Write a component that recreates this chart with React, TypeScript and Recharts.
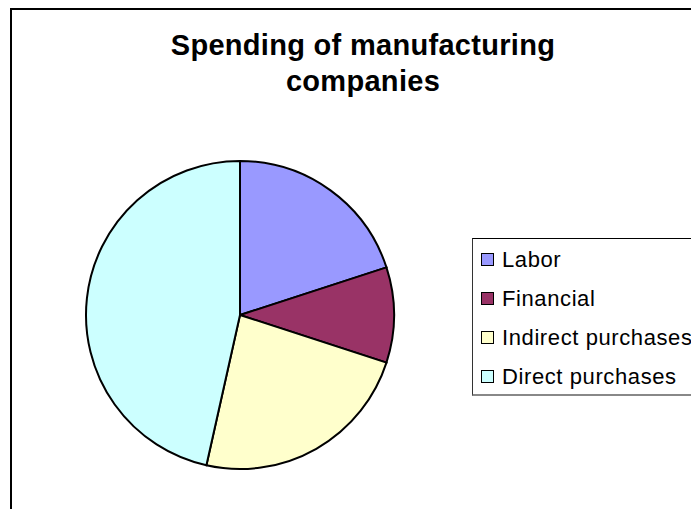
import { PieChart, Pie, Cell, Legend } from "recharts";

const categories = ["Labor", "Financial", "Indirect purchases", "Direct purchases"];
const spending = [20, 10, 23.5, 46.5];
const colors = ["#9999FF", "#993366", "#FFFFCC", "#CCFFFF"];

const data = categories.map((name, i) => ({ name, value: spending[i] }));

const LegendBox = () => (
    <div
        style={{
            width: 240,
            height: 158,
            boxSizing: "border-box",
            borderTop: "1px solid #000",
            borderLeft: "1px solid #333",
            borderBottom: "2px solid #888",
            background: "#fff",
            paddingTop: 1,
            paddingLeft: 8,
            fontFamily: "'Liberation Sans', Arial, sans-serif",
            fontSize: 22,
            letterSpacing: 0.6,
            color: "#000",
        }}
    >
        {categories.map((c, i) => (
            <div key={c} style={{ height: 39, display: "flex", alignItems: "center" }}>
                <span
                    style={{
                        width: 13,
                        height: 13,
                        boxSizing: "border-box",
                        border: "1px solid #000",
                        background: colors[i],
                        marginRight: 8,
                        flex: "none",
                    }}
                />
                <span style={{ whiteSpace: "nowrap", lineHeight: "22px" }}>{c}</span>
            </div>
        ))}
    </div>
);

export default function App() {
    return (
        <div style={{ position: "relative", width: 691, height: 501, overflow: "hidden", background: "#fff" }}>
            <div
                style={{
                    position: "absolute",
                    left: 2,
                    top: 0,
                    width: 700,
                    height: 520,
                    borderTop: "2px solid #000",
                    borderLeft: "2px solid #000",
                }}
            />
            <div
                style={{
                    position: "absolute",
                    left: 55,
                    top: 19,
                    width: 600,
                    textAlign: "center",
                    fontFamily: "'Liberation Sans', Arial, sans-serif",
                    fontWeight: "bold",
                    fontSize: 29,
                    lineHeight: "36px",
                    letterSpacing: 0.3,
                    color: "#000",
                }}
            >
                Spending of manufacturing
                <br />
                companies
            </div>
            <div style={{ position: "absolute", left: 0, top: 0 }}>
                <PieChart width={691} height={501} margin={{ top: 0, right: 0, bottom: 0, left: 0 }}>
                    <Pie
                        data={data}
                        dataKey="value"
                        nameKey="name"
                        cx={232}
                        cy={307}
                        outerRadius={154}
                        startAngle={90}
                        endAngle={-270}
                        stroke="#000"
                        strokeWidth={2}
                        isAnimationActive={false}
                    >
                        {data.map((d, i) => (
                            <Cell key={d.name} fill={colors[i]} />
                        ))}
                    </Pie>
                    <Legend
                        layout="horizontal"
                        verticalAlign="bottom"
                        content={<LegendBox />}
                        wrapperStyle={{ position: "absolute", left: 464, top: 230, bottom: "auto", width: 240 }}
                    />
                </PieChart>
            </div>
        </div>
    );
}
